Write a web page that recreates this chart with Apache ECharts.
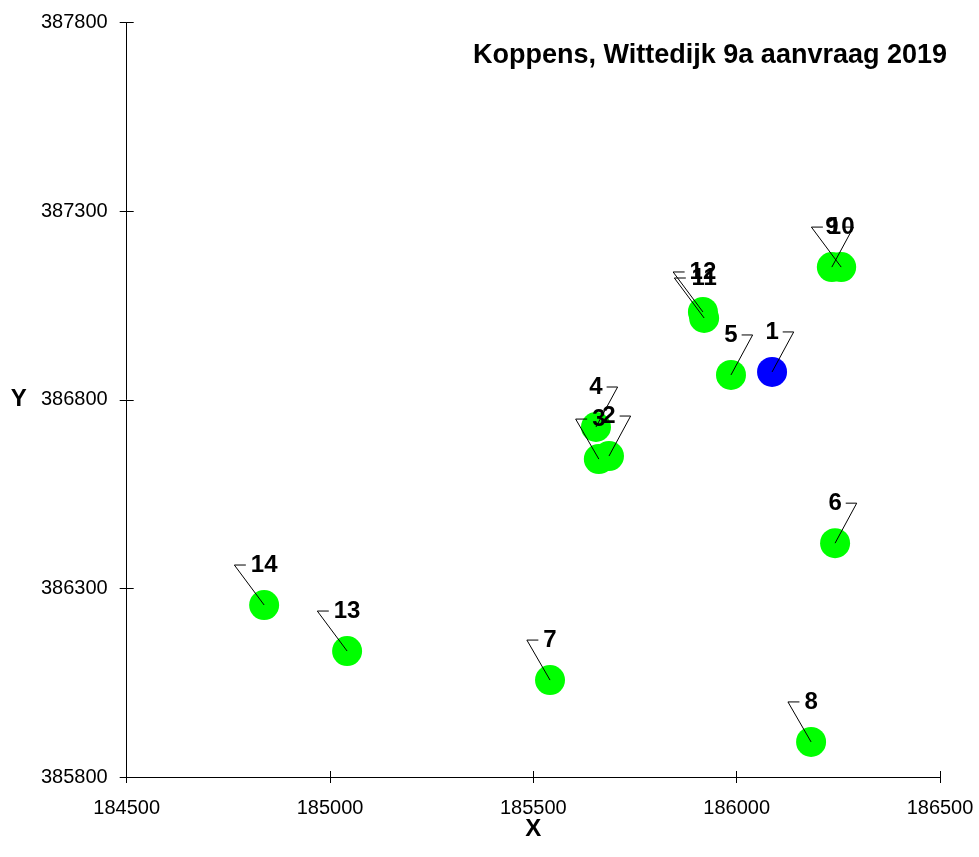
<!DOCTYPE html>
<html>
<head>
<meta charset="utf-8">
<script src="https://cdn.jsdelivr.net/npm/echarts/dist/echarts.min.js"></script>
<style>html,body{margin:0;padding:0;background:#fff}#c{width:979px;height:857px}</style>
</head>
<body>
<div id="c"></div>
<script>
// ---- data ----
const pointIds = ['1','2','3','4','5','6','7','8','9','10','11','12','13','14'];
const xValues  = [186087,185686,185661,185654,185986,186242,185541,186183,186234,186257,185920,185917,185042,184838];
const yValues  = [386874,386651,386643,386728,386866,386420,386057,385893,387152,387152,387017,387033,386134,386256];
const highlightedIds = ['1'];
const xTicks = { min: 184500, max: 186500, step: 500 };
const yTicks = { min: 385800, max: 387800, step: 500 };
const titleText = 'Koppens, Wittedijk 9a aanvraag 2019';

// ---- label leader style (which side the callout bends to) ----
const leaderSide = {'1':'R','2':'R','3':'L','4':'R','5':'R','6':'R','7':'L','8':'L','9':'R','10':'L','11':'L','12':'L','13':'L','14':'L'};

const FONT = '"Liberation Sans", Arial, sans-serif';
const chart = echarts.init(document.getElementById('c'), null, {renderer: 'canvas'});

const scatterData = pointIds.map((id, i) => [xValues[i], yValues[i], i]);

function baseAxis(t) {
  return { type: 'value', min: t.min, max: t.max, interval: t.step, scale: true, splitLine: { show: false } };
}
const plain = v => String(v);
const gridRect = { left: 126.7, right: 39, top: 22.7, bottom: 80, containLabel: false };

const option = {
  animation: false,
  backgroundColor: '#fff',
  title: {
    text: titleText, right: 27, top: 37,
    textStyle: { fontFamily: FONT, fontWeight: 'bold', fontSize: 27, color: '#000' }
  },
  grid: [Object.assign({}, gridRect), Object.assign({}, gridRect)],
  xAxis: [
    Object.assign(baseAxis(xTicks), {
      gridIndex: 0, position: 'bottom',
      axisLine: { show: true, lineStyle: { color: '#000', width: 1 } },
      axisTick: { show: true, length: 6, lineStyle: { color: '#000' } },
      axisLabel: { color: '#000', fontFamily: FONT, fontSize: 20, margin: 21, formatter: plain },
      name: 'X', nameLocation: 'middle', nameGap: 40, nameMoveOverlap: false,
      nameTextStyle: { fontFamily: FONT, fontWeight: 'bold', fontSize: 24, color: '#000' }
    }),
    Object.assign(baseAxis(xTicks), {
      gridIndex: 1, position: 'bottom',
      axisLine: { show: true, lineStyle: { color: 'rgba(0,0,0,0)', width: 0 } },
      axisTick: { show: true, inside: true, length: 6, lineStyle: { color: '#000' } },
      axisLabel: { show: false }
    })
  ],
  yAxis: [
    Object.assign(baseAxis(yTicks), {
      gridIndex: 0, position: 'left',
      axisLine: { show: true, lineStyle: { color: '#000', width: 1 } },
      axisTick: { show: true, length: 7, lineStyle: { color: '#000' } },
      axisLabel: { color: '#000', fontFamily: FONT, fontSize: 20, margin: 19, formatter: plain },
      name: 'Y', nameLocation: 'middle', nameGap: 100, nameRotate: 0, nameMoveOverlap: false,
      nameTextStyle: { fontFamily: FONT, fontWeight: 'bold', fontSize: 24, color: '#000' }
    }),
    Object.assign(baseAxis(yTicks), {
      gridIndex: 1, position: 'left',
      axisLine: { show: true, lineStyle: { color: 'rgba(0,0,0,0)', width: 0 } },
      axisTick: { show: true, inside: true, length: 7, lineStyle: { color: '#000' } },
      axisLabel: { show: false }
    })
  ],
  series: [
    {
      type: 'scatter', xAxisIndex: 0, yAxisIndex: 0,
      symbol: 'circle', symbolSize: 30,
      data: scatterData,
      itemStyle: {
        opacity: 1,
        color: p => highlightedIds.includes(pointIds[p.data[2]]) ? '#0000ff' : '#00ff00'
      },
      z: 2
    },
    {
      type: 'scatter', xAxisIndex: 1, yAxisIndex: 1, data: [], silent: true
    },
    {
      type: 'custom', xAxisIndex: 0, yAxisIndex: 0, clip: false, z: 5,
      data: scatterData,
      encode: { x: 0, y: 1 },
      renderItem: function (params, api) {
        const i = api.value(2);
        const p = api.coord([api.value(0), api.value(1)]);
        const id = pointIds[i];
        const w = id.length * 13.3;
        const ly = p[1] - 40;
        let corner, end;
        if (leaderSide[id] === 'L') {
          corner = [p[0] - w / 2 - 16.5, ly]; end = [p[0] - w / 2 - 5, ly];
        } else {
          corner = [p[0] + w / 2 + 15, ly]; end = [p[0] + w / 2 + 4, ly];
        }
        return {
          type: 'group',
          children: [
            { type: 'polyline', shape: { points: [p, corner, end] },
              style: { stroke: '#000', lineWidth: 1, fill: null } },
            { type: 'text',
              style: { text: id, x: p[0], y: ly, align: 'center', verticalAlign: 'middle',
                       font: 'bold 24px ' + FONT, fill: '#000' } }
          ]
        };
      }
    }
  ]
};
chart.setOption(option);
</script>
</body>
</html>
